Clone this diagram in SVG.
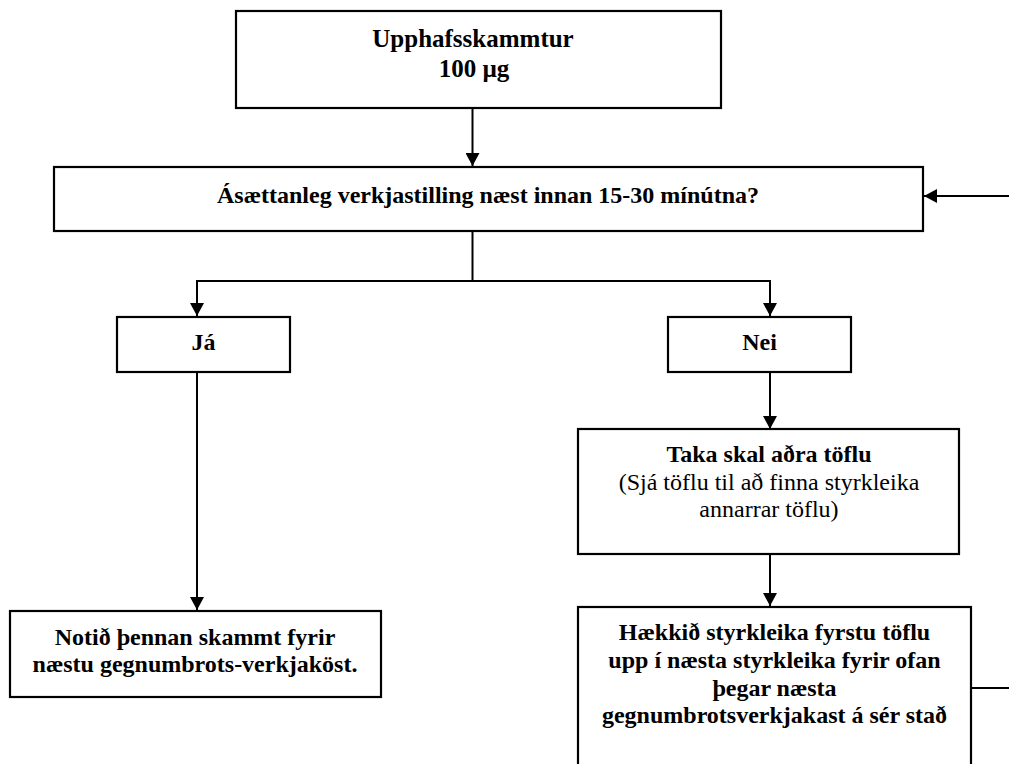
<svg xmlns="http://www.w3.org/2000/svg" width="1009" height="764" viewBox="0 0 1009 764">
<style>
.box{fill:#fff;stroke:#000;stroke-width:2.2}
.ln{fill:none;stroke:#000;stroke-width:2}
.t{font-family:'Liberation Serif','Times New Roman',serif;font-size:24px;text-anchor:middle;fill:#000}
.b{font-weight:bold}
</style>
<defs>
<marker id="ah" viewBox="0 0 13 14" refX="13" refY="7" markerWidth="13" markerHeight="14" markerUnits="userSpaceOnUse" orient="auto">
<path d="M0,0 L13,7 L0,14 Z" fill="#000"/>
</marker>
</defs>
<rect width="1009" height="764" fill="#fff"/>
<g id="connectors">
<line class="ln" x1="472.5" y1="108" x2="472.5" y2="166" marker-end="url(#ah)"/>
<line class="ln" x1="1009" y1="196" x2="924" y2="196" marker-end="url(#ah)"/>
<polyline class="ln" points="472.5,231 472.5,281"/>
<polyline class="ln" points="197,281 770,281 770,316" marker-end="url(#ah)"/>
<line class="ln" x1="197" y1="280" x2="197" y2="316" marker-end="url(#ah)"/>
<line class="ln" x1="770" y1="372" x2="770" y2="429" marker-end="url(#ah)"/>
<line class="ln" x1="770" y1="554" x2="770" y2="606" marker-end="url(#ah)"/>
<line class="ln" x1="197" y1="372" x2="197" y2="610" marker-end="url(#ah)"/>
<line class="ln" x1="971" y1="688" x2="1009" y2="688"/>
</g>
<g id="start">
<rect class="box" x="236" y="11" width="485" height="97"/>
<text class="t b" x="473" y="47" style="font-size:25px">Upphafsskammtur</text>
<text class="t b" x="474" y="77" style="font-size:25px">100 µg</text>
</g>
<g id="question">
<rect class="box" x="54" y="167" width="869" height="64"/>
<text class="t b" x="488" y="203">Ásættanleg verkjastilling næst innan 15-30 mínútna?</text>
</g>
<g id="ja">
<rect class="box" x="117" y="317" width="173" height="55"/>
<text class="t b" x="203.5" y="350">Já</text>
</g>
<g id="nei">
<rect class="box" x="668" y="317" width="183" height="55"/>
<text class="t b" x="759.5" y="350">Nei</text>
</g>
<g id="taka">
<rect class="box" x="578" y="429" width="381" height="125"/>
<text class="t b" x="769" y="462">Taka skal aðra töflu</text>
<text class="t" x="769" y="490">(Sjá töflu til að finna styrkleika</text>
<text class="t" x="769" y="517">annarrar töflu)</text>
</g>
<g id="notid">
<rect class="box" x="10" y="611" width="371" height="86"/>
<text class="t b" x="195" y="645">Notið þennan skammt fyrir</text>
<text class="t b" x="195" y="672">næstu gegnumbrots-verkjaköst.</text>
</g>
<g id="haekkid">
<rect class="box" x="578" y="607" width="393" height="170"/>
<text class="t b" x="774.5" y="640">Hækkið styrkleika fyrstu töflu</text>
<text class="t b" x="774.5" y="668">upp í næsta styrkleika fyrir ofan</text>
<text class="t b" x="774.5" y="696">þegar næsta</text>
<text class="t b" x="774.5" y="723">gegnumbrotsverkjakast á sér stað</text>
</g>
</svg>
